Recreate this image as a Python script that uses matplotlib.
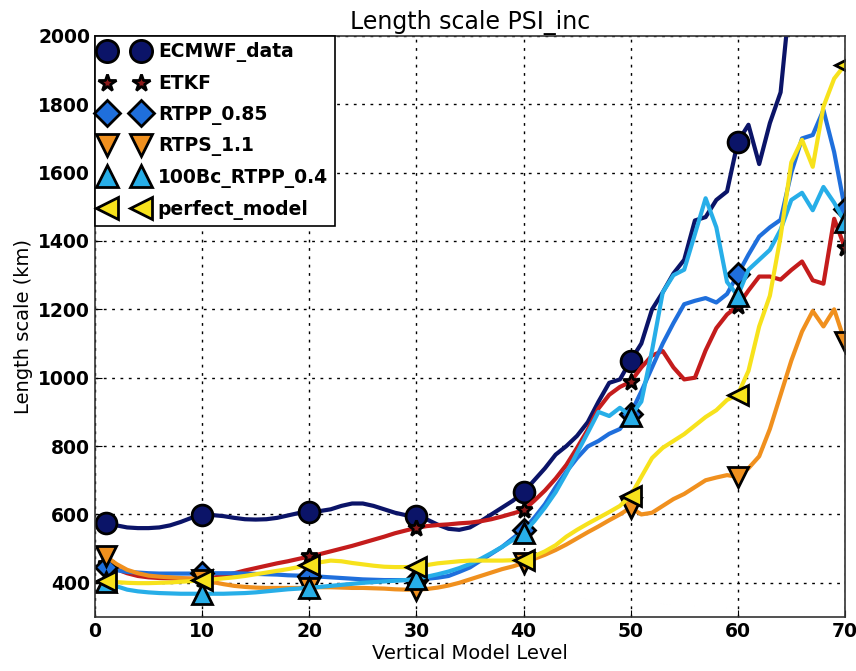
import matplotlib
matplotlib.use("Agg")
import matplotlib.pyplot as plt
from matplotlib.lines import Line2D
import numpy as np

levels = list(range(1, 71))

ecmwf = [575, 568, 562, 560, 560, 562, 568, 578, 590, 597,
         598, 595, 590, 586, 585, 586, 590, 597, 604, 608,
         610, 615, 625, 632, 632, 625, 615, 605, 598, 595,
         585, 570, 558, 555, 562, 580, 600, 620, 640, 665,
         700, 735, 775, 800, 830, 870, 930, 985, 995, 1050,
         1100, 1200, 1250, 1305, 1345, 1460, 1470, 1520, 1545, 1690,
         1740, 1625, 1745, 1835, 2150, 2300, 2400, 2500, 2600, 2700]

etkf = [455, 440, 428, 420, 416, 414, 413, 412, 412, 412,
        415, 420, 428, 436, 443, 450, 457, 463, 470, 477,
        484, 492, 500, 508, 517, 526, 535, 545, 553, 561,
        566, 569, 571, 574, 576, 580, 586, 594, 603, 612,
        640, 670, 705, 745, 795, 848, 910, 950, 973, 988,
        1030, 1065, 1078, 1030, 995, 1000, 1080, 1145, 1185, 1210,
        1255, 1296, 1296, 1287, 1315, 1340, 1285, 1275, 1465, 1380]

rtpp = [445, 437, 432, 430, 428, 427, 427, 427, 427, 428,
        428, 428, 428, 427, 426, 425, 424, 422, 421, 420,
        418, 416, 414, 412, 410, 409, 408, 408, 408, 409,
        412, 415, 420, 432, 445, 465, 485, 505, 530, 555,
        590, 630, 680, 725, 765, 799, 815, 836, 850, 895,
        960, 1030, 1100, 1160, 1215, 1225, 1233, 1220, 1245, 1302,
        1360, 1413, 1440, 1462, 1600, 1700, 1710, 1783, 1660, 1495]

rtps = [478, 455, 438, 428, 421, 418, 416, 414, 412, 408,
        402, 396, 391, 388, 386, 385, 385, 385, 385, 386,
        387, 387, 386, 385, 385, 384, 383, 381, 380, 380,
        382, 386, 392, 400, 410, 420, 430, 440, 448, 458,
        470, 482, 496, 512, 530, 548, 565, 583, 600, 620,
        600, 605, 625, 645, 660, 680, 700, 708, 715, 710,
        735, 770, 850, 950, 1050, 1135, 1195, 1150, 1200, 1105]

bc100 = [402, 390, 380, 375, 372, 370, 369, 368, 368, 368,
         368, 368, 369, 370, 372, 375, 378, 381, 383, 386,
         388, 391, 394, 397, 400, 402, 404, 406, 408, 412,
         418, 425, 433, 443, 455, 470, 487, 505, 525, 545,
         580, 620, 665, 720, 780, 839, 900, 888, 912, 888,
         930, 1080, 1250, 1300, 1316, 1420, 1525, 1440, 1280, 1240,
         1316, 1345, 1374, 1433, 1520, 1541, 1490, 1558, 1512, 1455]

perfect = [405, 402, 400, 399, 399, 400, 401, 403, 405, 408,
           410, 413, 416, 420, 425, 430, 435, 440, 446, 452,
           460, 465, 463, 458, 454, 450, 447, 446, 446, 447,
           452, 457, 460, 463, 465, 465, 465, 465, 466, 468,
           478, 492, 510, 535, 555, 573, 590, 607, 625, 655,
           710, 765, 795, 815, 835, 860, 885, 905, 935, 950,
           1020, 1150, 1240, 1413, 1630, 1696, 1617, 1793, 1875, 1915]

names = ["ECMWF_data", "ETKF", "RTPP_0.85", "RTPS_1.1", "100Bc_RTPP_0.4", "perfect_model"]
series = [ecmwf, etkf, rtpp, rtps, bc100, perfect]
line_colors = ["#0b1468", "#c41c1c", "#1f6fdc", "#f0901e", "#27aee8", "#f7e21c"]
marker_faces = ["#0b1468", "#8c1a1a", "#1f6fdc", "#f0901e", "#27aee8", "#f7e21c"]
markers = ["o", "*", "D", "v", "^", "<"]
msizes = [15, 12, 11, 15, 15, 15]
leg_sizes = [16, 13, 13, 16, 16, 16]

mark_idx = [0, 9, 19, 29, 39, 49, 59, 69]

fig = plt.figure(figsize=(8.56, 6.71), dpi=100)
ax = fig.add_axes([0.111, 0.0805, 0.876, 0.866])

handles = []
for name, vals, lc, mf, mk, ms, ls in zip(names, series, line_colors, marker_faces,
                                          markers, msizes, leg_sizes):
    ax.plot(levels, vals, color=lc, lw=3, marker=mk, markevery=mark_idx,
            markersize=ms, markerfacecolor=mf, markeredgecolor="black",
            markeredgewidth=2)
    handles.append(Line2D([], [], linestyle="none", marker=mk, markersize=ls,
                          markerfacecolor=mf, markeredgecolor="black",
                          markeredgewidth=2, label=name))

ax.set_xlim(0, 70)
ax.set_ylim(300, 2000)
ax.set_xticks(range(0, 71, 10))
ax.set_yticks(range(400, 2001, 200))
ax.tick_params(labelsize=13.5, direction="in", length=5)
for lab in ax.get_xticklabels() + ax.get_yticklabels():
    lab.set_fontweight("bold")
ax.grid(True, color="black", linestyle=(0, (2, 4)), linewidth=1)
ax.set_axisbelow(True)
for sp in ax.spines.values():
    sp.set_color("#333333")
    sp.set_linewidth(1.2)

ax.set_title("Length scale PSI_inc", fontsize=17, pad=5)
ax.set_xlabel("Vertical Model Level", fontsize=14, labelpad=2)
ax.set_ylabel("Length scale (km)", fontsize=14, labelpad=4)

leg = ax.legend(handles=handles, loc="upper left", numpoints=2, fancybox=False,
                framealpha=1, edgecolor="black", borderaxespad=0,
                prop={"size": 13.5, "weight": "bold"}, handlelength=2.4,
                handletextpad=0.6, labelspacing=0.62, borderpad=0.35)
leg.get_frame().set_linewidth(1.2)

fig.savefig("out.png", dpi=100)
